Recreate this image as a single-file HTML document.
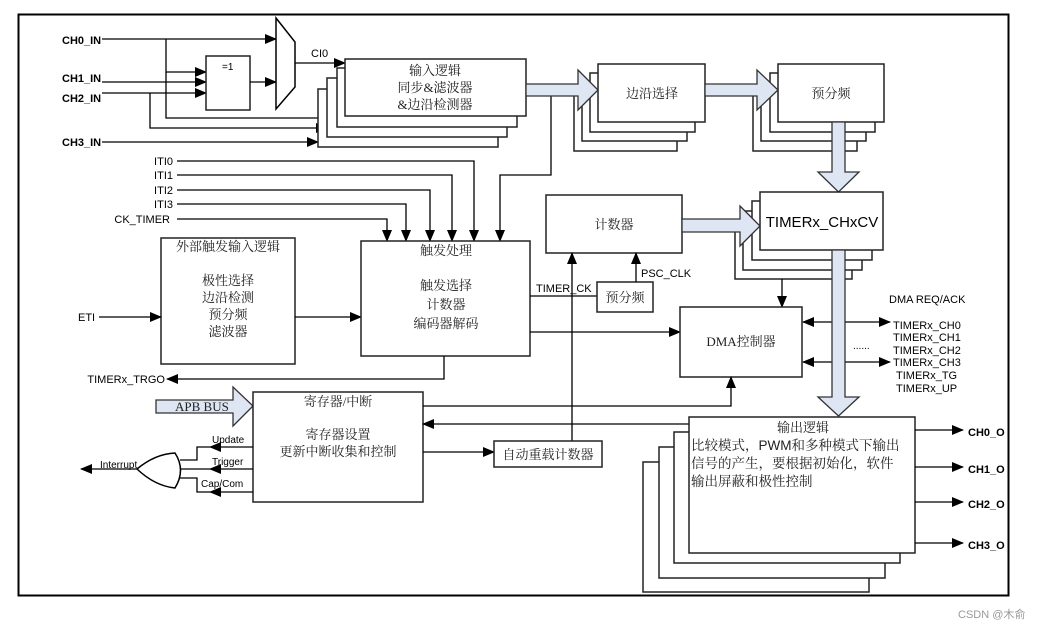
<!DOCTYPE html>
<html><head><meta charset="utf-8">
<style>
html,body{margin:0;padding:0;background:#fff;}
svg{display:block;}
.l{stroke:#000;stroke-width:1.3;fill:none;}
.b{stroke:#222;stroke-width:1.5;fill:#fff;}
.fa{fill:#dde6f2;stroke:#333;stroke-width:1.3;}
.t{font-family:"Liberation Sans",sans-serif;font-size:11px;fill:#000;}
.c{font-family:"Liberation Serif","Noto Serif CJK SC",serif;font-size:13px;fill:#222;}
</style></head><body>
<svg width="1043" height="629" viewBox="0 0 1043 629" xmlns="http://www.w3.org/2000/svg">
<defs>
<marker id="a" markerUnits="userSpaceOnUse" markerWidth="12" markerHeight="10" refX="11" refY="5" orient="auto"><path d="M0,0 L12,5 L0,10 Z" fill="#000"/></marker>
<marker id="s" markerUnits="userSpaceOnUse" markerWidth="12" markerHeight="10" refX="1" refY="5" orient="auto"><path d="M12,0 L0,5 L12,10 Z" fill="#000"/></marker>
</defs>
<rect x="18.5" y="14.5" width="990" height="581" fill="none" stroke="#000" stroke-width="2"/>

<!-- inputs -->
<text class="t" x="62" y="44" font-weight="bold">CH0_IN</text>
<text class="t" x="62" y="82" font-weight="bold">CH1_IN</text>
<text class="t" x="62" y="102" font-weight="bold">CH2_IN</text>
<text class="t" x="62" y="146" font-weight="bold">CH3_IN</text>
<line class="l" x1="102" y1="39" x2="276" y2="39" marker-end="url(#a)"/>
<polyline class="l" points="166,39 166,72 206,72" marker-end="url(#a)"/>
<line class="l" x1="102" y1="82" x2="206" y2="82" marker-end="url(#a)"/>
<line class="l" x1="102" y1="93" x2="206" y2="93" marker-end="url(#a)"/>
<polyline class="l" points="166,72 166,118 337,118" marker-end="url(#a)"/>
<polyline class="l" points="150,93 150,128 327,128" marker-end="url(#a)"/>
<line class="l" x1="102" y1="142" x2="318" y2="142" marker-end="url(#a)"/>
<rect class="b" x="206" y="56" width="44" height="54"/>
<text class="t" x="222" y="70" style="font-size:10px">=1</text>
<line class="l" x1="250" y1="82" x2="276" y2="82" marker-end="url(#a)"/>
<path d="M276,18 L295,42 L295,87 L276,109 Z" fill="#fff" stroke="#000" stroke-width="1.5"/>
<line class="l" x1="295" y1="63" x2="345" y2="63" marker-end="url(#a)"/>
<text class="t" x="311" y="57">CI0</text>

<!-- input logic stack -->
<rect class="b" x="318" y="89" width="180" height="58"/>
<rect class="b" x="327" y="78" width="180" height="59"/>
<rect class="b" x="337" y="68" width="180" height="59"/>
<rect class="b" x="345" y="59" width="181" height="57"/>
<text class="c" x="435" y="75" text-anchor="middle">输入逻辑</text>
<text class="c" x="435" y="92" text-anchor="middle">同步&amp;滤波器</text>
<text class="c" x="435" y="109" text-anchor="middle">&amp;边沿检测器</text>

<!-- edge select stack -->
<rect class="b" x="574" y="93" width="103" height="58"/>
<rect class="b" x="582" y="83" width="105" height="58"/>
<rect class="b" x="590" y="73" width="105" height="59"/>
<rect class="b" x="598" y="64" width="107" height="58"/>
<text class="c" x="652" y="98" text-anchor="middle">边沿选择</text>
<!-- prescaler stack -->
<rect class="b" x="753" y="93" width="104" height="58"/>
<rect class="b" x="761" y="83" width="105" height="58"/>
<rect class="b" x="770" y="73" width="105" height="59"/>
<rect class="b" x="778" y="64" width="106" height="58"/>
<text class="c" x="831" y="98" text-anchor="middle">预分频</text>

<polyline class="l" points="551,96 551,175 500,175 500,241" marker-end="url(#a)"/>
<path class="fa" d="M526,84 L578,84 L578,70 L598,90 L578,110 L578,96 L526,96 Z"/>
<path class="fa" d="M705,84 L757,84 L757,70 L778,90 L757,110 L757,96 L705,96 Z"/>
<path class="fa" d="M832,122 L832,172 L818,172 L838.5,192 L859,172 L845,172 L845,122 Z"/>

<!-- ITI lines -->
<text class="t" x="173" y="165" text-anchor="end">ITI0</text>
<text class="t" x="173" y="179" text-anchor="end">ITI1</text>
<text class="t" x="173" y="194" text-anchor="end">ITI2</text>
<text class="t" x="173" y="208" text-anchor="end">ITI3</text>
<text class="t" x="170" y="223" text-anchor="end">CK_TIMER</text>
<polyline class="l" points="177,161 474,161 474,241" marker-end="url(#a)"/>
<polyline class="l" points="177,175 452,175 452,241" marker-end="url(#a)"/>
<polyline class="l" points="177,190 430,190 430,241" marker-end="url(#a)"/>
<polyline class="l" points="177,204 406,204 406,241" marker-end="url(#a)"/>
<polyline class="l" points="177,219 387,219 387,241" marker-end="url(#a)"/>

<!-- ext trigger -->
<rect class="b" x="161" y="238" width="134" height="126"/>
<text class="c" x="228" y="251" text-anchor="middle">外部触发输入逻辑</text>
<text class="c" x="228" y="285" text-anchor="middle">极性选择</text>
<text class="c" x="228" y="302" text-anchor="middle">边沿检测</text>
<text class="c" x="228" y="319" text-anchor="middle">预分频</text>
<text class="c" x="228" y="336" text-anchor="middle">滤波器</text>
<text class="t" x="78" y="321">ETI</text>
<line class="l" x1="99" y1="317" x2="161" y2="317" marker-end="url(#a)"/>
<line class="l" x1="295" y1="317" x2="361" y2="317" marker-end="url(#a)"/>

<!-- trigger box -->
<rect class="b" x="361" y="241" width="169" height="115"/>
<text class="c" x="446" y="255" text-anchor="middle">触发处理</text>
<text class="c" x="446" y="290" text-anchor="middle">触发选择</text>
<text class="c" x="446" y="309" text-anchor="middle">计数器</text>
<text class="c" x="446" y="328" text-anchor="middle">编码器解码</text>
<polyline class="l" points="444,356 444,379 167,379" marker-end="url(#a)"/>
<text class="t" x="165" y="383" text-anchor="end">TIMERx_TRGO</text>
<line class="l" x1="530" y1="296" x2="597" y2="296"/>
<text class="t" x="536" y="292">TIMER_CK</text>
<line class="l" x1="530" y1="332" x2="680" y2="332" marker-end="url(#a)"/>

<!-- counter -->
<rect class="b" x="546" y="195" width="136" height="58"/>
<text class="c" x="614" y="229" text-anchor="middle">计数器</text>
<rect class="b" x="597" y="282" width="56" height="30"/>
<text class="c" x="625" y="302" text-anchor="middle">预分频</text>
<line class="l" x1="636" y1="282" x2="636" y2="253" marker-end="url(#a)"/>
<text class="t" x="641" y="277">PSC_CLK</text>
<line class="l" x1="572" y1="441" x2="572" y2="253" marker-end="url(#a)"/>

<!-- CV stack -->
<rect class="b" x="735" y="221" width="117" height="58"/>
<rect class="b" x="743" y="211" width="119" height="59"/>
<rect class="b" x="752" y="201" width="120" height="59"/>
<rect class="b" x="760" y="192" width="123" height="58"/>
<text class="t" x="822" y="227" text-anchor="middle" style="font-size:15px">TIMERx_CHxCV</text>
<path class="fa" d="M682,219 L740,219 L740,206 L760,226 L740,246 L740,232 L682,232 Z"/>
<line class="l" x1="782" y1="279" x2="782" y2="307" marker-end="url(#a)"/>

<!-- DMA -->
<rect class="b" x="680" y="307" width="122" height="70"/>
<text class="c" x="741" y="346" text-anchor="middle">DMA控制器</text>
<line class="l" x1="803" y1="322" x2="890" y2="322" marker-start="url(#s)" marker-end="url(#a)"/>
<line class="l" x1="803" y1="362" x2="890" y2="362" marker-start="url(#s)" marker-end="url(#a)"/>
<text class="t" x="853" y="349" style="font-size:10px">......</text>
<text class="t" x="889" y="303">DMA REQ/ACK</text>
<text class="t" x="893" y="329">TIMERx_CH0</text>
<text class="t" x="893" y="341">TIMERx_CH1</text>
<text class="t" x="893" y="354">TIMERx_CH2</text>
<text class="t" x="893" y="366">TIMERx_CH3</text>
<text class="t" x="896" y="379">TIMERx_TG</text>
<text class="t" x="896" y="392">TIMERx_UP</text>
<path class="fa" d="M832,250 L832,397 L818,397 L838.5,416 L859,397 L845,397 L845,250 Z"/>

<!-- register box -->
<path class="fa" d="M156,400 L233,400 L233,387 L253,406 L233,426 L233,413 L156,413 Z"/>
<text x="175" y="411" font-family="Liberation Serif,serif" font-size="13" fill="#222">APB BUS</text>
<rect class="b" x="253" y="392" width="170" height="110"/>
<text class="c" x="338" y="406" text-anchor="middle">寄存器/中断</text>
<text class="c" x="338" y="439" text-anchor="middle">寄存器设置</text>
<text class="c" x="338" y="456" text-anchor="middle">更新中断收集和控制</text>
<polyline class="l" points="423,406 731,406 731,377" marker-end="url(#a)"/>
<line class="l" x1="689" y1="424" x2="423" y2="424" marker-end="url(#a)"/>
<line class="l" x1="423" y1="452" x2="494" y2="452" marker-end="url(#a)"/>
<rect class="b" x="494" y="441" width="108" height="26"/>
<text class="c" x="548" y="459" text-anchor="middle">自动重载计数器</text>

<line class="l" x1="253" y1="447" x2="210" y2="447" marker-end="url(#a)"/>
<polyline class="l" points="210,447 197,447 197,460 180,460"/>
<line class="l" x1="253" y1="469" x2="210" y2="469" marker-end="url(#a)"/>
<line class="l" x1="210" y1="469" x2="180" y2="469"/>
<line class="l" x1="253" y1="492" x2="210" y2="492" marker-end="url(#a)"/>
<polyline class="l" points="210,492 197,492 197,478 180,478"/>
<text class="t" x="212" y="443" style="font-size:10px">Update</text>
<text class="t" x="212" y="465" style="font-size:10px">Trigger</text>
<text class="t" x="201" y="487" style="font-size:10px">Cap/Com</text>
<path d="M175,453 Q186,470 175,488 Q155,486 137,469 Q155,454 175,453 Z" fill="#fff" stroke="#000" stroke-width="1.5"/>
<line class="l" x1="137" y1="469" x2="81" y2="469" marker-end="url(#a)"/>
<text class="t" x="100" y="468" style="font-size:10px">Interrupt</text>

<!-- output stack -->
<rect class="b" x="643" y="462" width="226" height="130"/>
<rect class="b" x="659" y="447" width="226" height="131"/>
<rect class="b" x="674" y="432" width="226" height="131"/>
<rect class="b" x="689" y="417" width="226" height="136"/>
<text class="c" x="803" y="432" text-anchor="middle">输出逻辑</text>
<text class="c" x="691" y="450" style="font-size:13.5px">比较模式，<tspan font-family="Liberation Sans,sans-serif">PWM</tspan>和多种模式下输出</text>
<text class="c" x="691" y="468" style="font-size:13.5px">信号的产生，要根据初始化，软件</text>
<text class="c" x="691" y="486" style="font-size:13.5px">输出屏蔽和极性控制</text>
<line class="l" x1="915" y1="430" x2="963" y2="430" marker-end="url(#a)"/>
<line class="l" x1="915" y1="467" x2="963" y2="467" marker-end="url(#a)"/>
<line class="l" x1="915" y1="502" x2="963" y2="502" marker-end="url(#a)"/>
<line class="l" x1="915" y1="543" x2="963" y2="543" marker-end="url(#a)"/>
<text class="t" x="968" y="436" font-weight="bold">CH0_O</text>
<text class="t" x="968" y="473" font-weight="bold">CH1_O</text>
<text class="t" x="968" y="508" font-weight="bold">CH2_O</text>
<text class="t" x="968" y="549" font-weight="bold">CH3_O</text>

<text x="958" y="618" font-family="Liberation Sans,Noto Sans CJK SC,sans-serif" font-size="11" fill="#999">CSDN @木俞</text>
</svg>
</body></html>
